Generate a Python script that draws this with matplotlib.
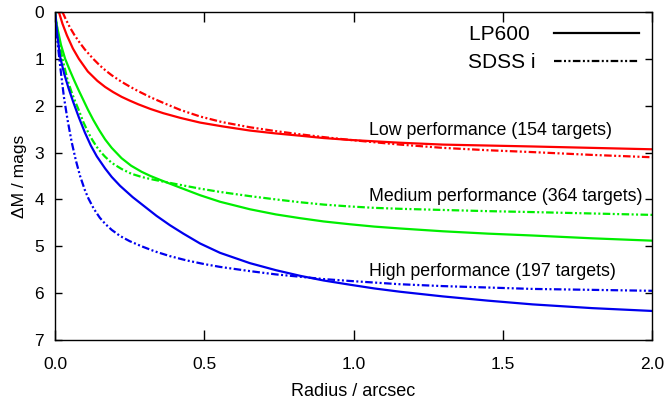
import matplotlib
matplotlib.use("Agg")
import matplotlib.pyplot as plt
from matplotlib.lines import Line2D

plt.rcParams['font.family'] = ['Liberation Sans', 'DejaVu Sans']

# ---- data ----
r_low_lp = [0.013, 0.025, 0.04, 0.06, 0.08, 0.11, 0.142, 0.168, 0.195, 0.223, 0.25, 0.279, 0.32, 0.363,
            0.42, 0.486, 0.56, 0.653, 0.737, 0.821, 0.9, 0.988, 1.07, 1.156, 1.3, 1.45, 1.6, 1.8, 2.0]
m_low_lp = [0.0, 0.25, 0.50, 0.78, 1.00, 1.27, 1.47, 1.60, 1.71, 1.81, 1.89, 1.97, 2.07, 2.16,
            2.26, 2.36, 2.44, 2.53, 2.59, 2.64, 2.69, 2.73, 2.76, 2.79, 2.83, 2.85, 2.87, 2.90, 2.93]

r_low_sd = [0.025, 0.035, 0.05, 0.065, 0.08, 0.1, 0.128, 0.15, 0.168, 0.19, 0.223, 0.25, 0.279, 0.32, 0.363,
            0.42, 0.486, 0.56, 0.653, 0.737, 0.821, 0.9, 0.988, 1.07, 1.156, 1.3, 1.45, 1.6, 1.8, 2.0]
m_low_sd = [0.0, 0.14, 0.33, 0.49, 0.63, 0.80, 1.00, 1.14, 1.24, 1.35, 1.49, 1.59, 1.69, 1.82, 1.94,
            2.09, 2.23, 2.35, 2.46, 2.54, 2.61, 2.67, 2.73, 2.78, 2.83, 2.90, 2.95, 2.99, 3.05, 3.10]

r_med_lp = [0.0, 0.006, 0.02, 0.034, 0.05, 0.065, 0.08, 0.095, 0.11, 0.128, 0.148, 0.168, 0.19, 0.223, 0.255,
            0.29, 0.32, 0.355, 0.42, 0.486, 0.553, 0.653, 0.74, 0.821, 0.9, 0.988, 1.07, 1.156, 1.3, 1.45,
            1.6, 1.8, 2.0]
m_med_lp = [0.0, 0.28, 0.70, 1.00, 1.25, 1.47, 1.68, 1.88, 2.08, 2.30, 2.52, 2.72, 2.90, 3.12, 3.28,
            3.41, 3.50, 3.59, 3.75, 3.91, 4.05, 4.21, 4.32, 4.40, 4.47, 4.53, 4.58, 4.62, 4.68, 4.73,
            4.77, 4.83, 4.88]

r_med_sd = [0.0, 0.01, 0.025, 0.042, 0.055, 0.067, 0.08, 0.095, 0.112, 0.125, 0.14, 0.155, 0.168, 0.19,
            0.223, 0.255, 0.29, 0.32, 0.355, 0.42, 0.486, 0.553, 0.653, 0.74, 0.821, 0.9, 0.988, 1.07,
            1.156, 1.3, 1.45, 1.6, 1.8, 2.0]
m_med_sd = [0.0, 0.50, 1.00, 1.45, 1.70, 1.90, 2.10, 2.35, 2.58, 2.73, 2.88, 3.00, 3.09, 3.22,
            3.35, 3.45, 3.52, 3.565, 3.61, 3.69, 3.77, 3.84, 3.93, 4.00, 4.06, 4.11, 4.15, 4.18,
            4.20, 4.225, 4.25, 4.27, 4.30, 4.33]

r_high_lp = [0.0, 0.008, 0.017, 0.03, 0.045, 0.061, 0.08, 0.1, 0.12, 0.14, 0.168, 0.19, 0.218, 0.26, 0.302,
             0.34, 0.385, 0.43, 0.486, 0.553, 0.653, 0.74, 0.821, 0.9, 0.988, 1.07, 1.156, 1.3, 1.45,
             1.6, 1.8, 2.0]
m_high_lp = [0.0, 0.50, 0.95, 1.30, 1.62, 1.92, 2.25, 2.57, 2.85, 3.08, 3.34, 3.52, 3.71, 3.95, 4.16,
             4.35, 4.55, 4.73, 4.94, 5.14, 5.36, 5.51, 5.63, 5.73, 5.82, 5.90, 5.97, 6.07, 6.16,
             6.24, 6.32, 6.38]

r_high_sd = [0.0, 0.006, 0.012, 0.02, 0.03, 0.042, 0.056, 0.07, 0.084, 0.1, 0.112, 0.13, 0.15, 0.168, 0.19,
             0.218, 0.25, 0.29, 0.335, 0.385, 0.44, 0.5, 0.553, 0.653, 0.74, 0.821, 0.9, 0.988, 1.156,
             1.3, 1.45, 1.6, 1.8, 2.0]
m_high_sd = [0.0, 0.50, 0.85, 1.30, 1.82, 2.30, 2.78, 3.17, 3.50, 3.80, 3.98, 4.20, 4.39, 4.52, 4.65,
             4.78, 4.89, 5.00, 5.11, 5.21, 5.30, 5.38, 5.44, 5.53, 5.60, 5.65, 5.70, 5.74, 5.81,
             5.85, 5.88, 5.91, 5.93, 5.95]

group_labels = ["Low performance (154 targets)",
                "Medium performance (364 targets)",
                "High performance (197 targets)"]
label_pos_x = [1.052, 1.052, 1.052]
label_pos_y = [2.53, 3.94, 5.54]

x_ticks = [0.0, 0.5, 1.0, 1.5, 2.0]
x_tick_labels = ["0.0", "0.5", "1.0", "1.5", "2.0"]
y_ticks = [0, 1, 2, 3, 4, 5, 6, 7]

filter_names = ["LP600", "SDSS i"]

# ---- styling ----
RED, GREEN, BLUE = '#ff0000', '#00ee00', '#0000ee'
LW = 1.6
DD = (0, (3.4, 1.1, 0.9, 1.1, 0.9, 1.1))

fig = plt.figure(figsize=(6.67, 4.03), dpi=100)
ax = fig.add_axes([55/667, 1 - 340/403, (652 - 55)/667, (340 - 12)/403])

ax.plot(r_low_lp, m_low_lp, color=RED, lw=LW)
ax.plot(r_low_sd, m_low_sd, color=RED, lw=LW, linestyle=DD)
ax.plot(r_med_lp, m_med_lp, color=GREEN, lw=LW)
ax.plot(r_med_sd, m_med_sd, color=GREEN, lw=LW, linestyle=DD)
ax.plot(r_high_lp, m_high_lp, color=BLUE, lw=LW)
ax.plot(r_high_sd, m_high_sd, color=BLUE, lw=LW, linestyle=DD)

for txt, x, y in zip(group_labels, label_pos_x, label_pos_y):
    ax.text(x, y, txt, ha='left', va='center', fontsize=12.8, color='black')

ax.set_xlim(0, 2.0)
ax.set_ylim(7, 0)
ax.set_xticks(x_ticks)
ax.set_xticklabels(x_tick_labels)
ax.set_yticks(y_ticks)

ax.tick_params(axis='both', direction='in', top=True, right=True, labelsize=12.5, width=1.0)
ax.tick_params(axis='x', length=7, pad=12)
ax.tick_params(axis='y', length=5, pad=8)
for s in ax.spines.values():
    s.set_linewidth(1.0)

ax.set_xlabel("Radius / arcsec", fontsize=13, labelpad=8)
ax.set_ylabel("ΔM / mags", fontsize=12.5, labelpad=5)

# legend: text on the left (left-aligned), line sample on the right
legend_labels = [filter_names[0] + " ", filter_names[1]]
handles = [Line2D([], [], color='black', lw=LW),
           Line2D([], [], color='black', lw=LW, linestyle=DD)]
leg = ax.legend(handles, legend_labels, loc='upper right',
                bbox_to_anchor=(639/667, 1 - 25/403), bbox_transform=fig.transFigure,
                frameon=False, markerfirst=False, fontsize=15,
                handlelength=4.1, handletextpad=0.87, labelspacing=0.45,
                borderpad=0, borderaxespad=0)

fig.savefig("out.png", dpi=100)
